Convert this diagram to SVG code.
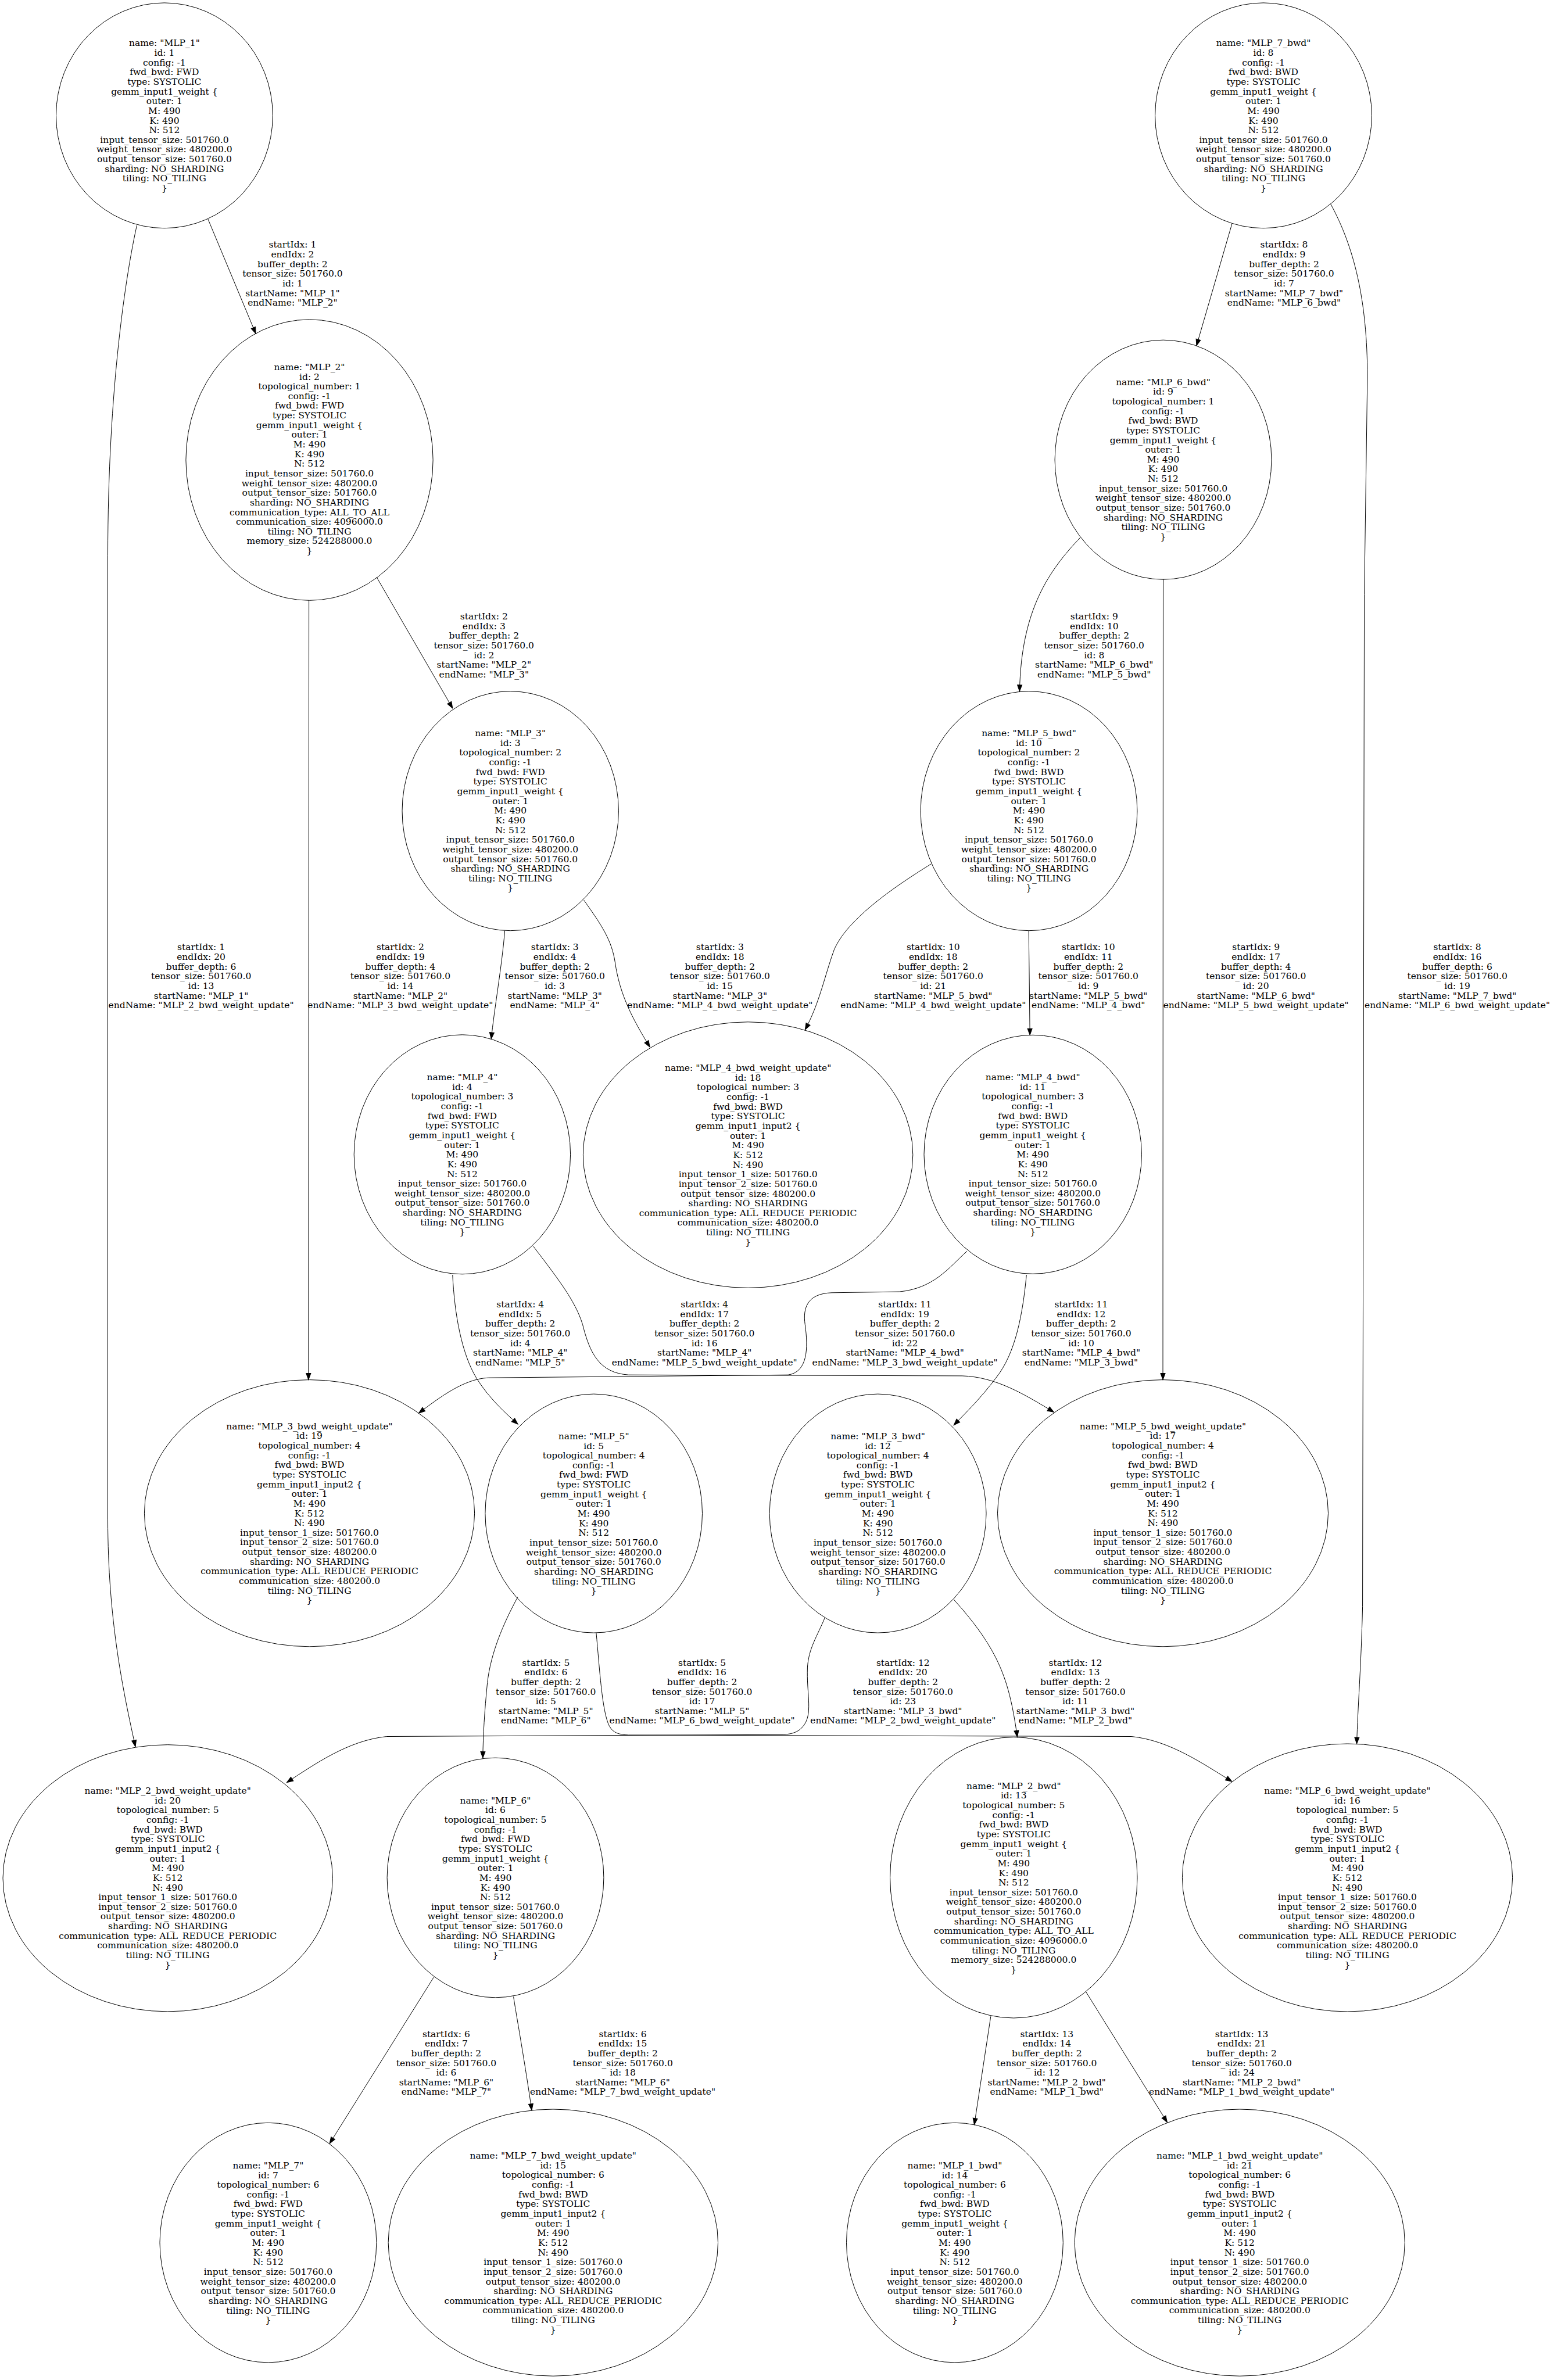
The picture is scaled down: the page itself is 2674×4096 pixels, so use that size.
<svg xmlns="http://www.w3.org/2000/svg" width="2674" height="4096" viewBox="0 0 2674 4096">
<defs>
<style>
.n ellipse{fill:none;stroke:#000;stroke-width:1}
text{font-family:"DejaVu Serif","Liberation Serif",serif;font-size:15.53px;text-anchor:middle;fill:#000}
.e path{fill:none;stroke:#000;stroke-width:1;marker-end:url(#ah)}
</style>
<marker id="ah" markerWidth="12" markerHeight="9" refX="11" refY="4" orient="auto" markerUnits="userSpaceOnUse" overflow="visible"><path d="M0,0 L11,4 L0,8 z" fill="#000" stroke="#000" stroke-width="1"/></marker>
</defs>
<rect width="2674" height="4096" fill="#fff"/>
<g id="edges" class="e">
<g id="e1"><path d="M357.8,376.9 L440.1,574.1"/><text x="503.4" y="426.4"><tspan x="503.4">startIdx: 1</tspan><tspan x="503.4" dy="16.64">endIdx: 2</tspan><tspan x="503.4" dy="16.64">buffer_depth: 2</tspan><tspan x="503.4" dy="16.64">tensor_size: 501760.0</tspan><tspan x="503.4" dy="16.64">id: 1</tspan><tspan x="503.4" dy="16.64">startName: "MLP_1"</tspan><tspan x="503.4" dy="16.64">endName: "MLP_2"</tspan></text></g>
<g id="e2"><path d="M648.1,993.4 L778.8,1218.9"/><text x="832.8" y="1066.2"><tspan x="832.8">startIdx: 2</tspan><tspan x="832.8" dy="16.64">endIdx: 3</tspan><tspan x="832.8" dy="16.64">buffer_depth: 2</tspan><tspan x="832.8" dy="16.64">tensor_size: 501760.0</tspan><tspan x="832.8" dy="16.64">id: 2</tspan><tspan x="832.8" dy="16.64">startName: "MLP_2"</tspan><tspan x="832.8" dy="16.64">endName: "MLP_3"</tspan></text></g>
<g id="e3"><path d="M868.6,1601.6 C864,1660 850,1740 845.3,1788.0"/><text x="954.7" y="1635.3"><tspan x="954.7">startIdx: 3</tspan><tspan x="954.7" dy="16.64">endIdx: 4</tspan><tspan x="954.7" dy="16.64">buffer_depth: 2</tspan><tspan x="954.7" dy="16.64">tensor_size: 501760.0</tspan><tspan x="954.7" dy="16.64">id: 3</tspan><tspan x="954.7" dy="16.64">startName: "MLP_3"</tspan><tspan x="954.7" dy="16.64">endName: "MLP_4"</tspan></text></g>
<g id="e4"><path d="M778.8,2194.0 C782.1,2263.0 794.6,2329.6 819.5,2371.2 C840.3,2404.5 865.3,2427.8 891.1,2451.1"/><text x="895.2" y="2250.1"><tspan x="895.2">startIdx: 4</tspan><tspan x="895.2" dy="16.64">endIdx: 5</tspan><tspan x="895.2" dy="16.64">buffer_depth: 2</tspan><tspan x="895.2" dy="16.64">tensor_size: 501760.0</tspan><tspan x="895.2" dy="16.64">id: 4</tspan><tspan x="895.2" dy="16.64">startName: "MLP_4"</tspan><tspan x="895.2" dy="16.64">endName: "MLP_5"</tspan></text></g>
<g id="e5"><path d="M891.1,2748.1 C865.3,2795.5 844.5,2845.4 838.7,2895.4 C833.7,2945.3 831.2,2986.9 830.8,3025.6"/><text x="939.3" y="2866.6"><tspan x="939.3">startIdx: 5</tspan><tspan x="939.3" dy="16.64">endIdx: 6</tspan><tspan x="939.3" dy="16.64">buffer_depth: 2</tspan><tspan x="939.3" dy="16.64">tensor_size: 501760.0</tspan><tspan x="939.3" dy="16.64">id: 5</tspan><tspan x="939.3" dy="16.64">startName: "MLP_5"</tspan><tspan x="939.3" dy="16.64">endName: "MLP_6"</tspan></text></g>
<g id="e6"><path d="M746.3,3402.9 L567.2,3689.1"/><text x="767.9" y="3505.6"><tspan x="767.9">startIdx: 6</tspan><tspan x="767.9" dy="16.64">endIdx: 7</tspan><tspan x="767.9" dy="16.64">buffer_depth: 2</tspan><tspan x="767.9" dy="16.64">tensor_size: 501760.0</tspan><tspan x="767.9" dy="16.64">id: 6</tspan><tspan x="767.9" dy="16.64">startName: "MLP_6"</tspan><tspan x="767.9" dy="16.64">endName: "MLP_7"</tspan></text></g>
<g id="e7"><path d="M2119.9,385.2 L2058.9,594.9"/><text x="2209.5" y="426.4"><tspan x="2209.5">startIdx: 8</tspan><tspan x="2209.5" dy="16.64">endIdx: 9</tspan><tspan x="2209.5" dy="16.64">buffer_depth: 2</tspan><tspan x="2209.5" dy="16.64">tensor_size: 501760.0</tspan><tspan x="2209.5" dy="16.64">id: 7</tspan><tspan x="2209.5" dy="16.64">startName: "MLP_7_bwd"</tspan><tspan x="2209.5" dy="16.64">endName: "MLP_6_bwd"</tspan></text></g>
<g id="e8"><path d="M1858.7,925.2 C1805.4,981.8 1757.2,1048.3 1754.4,1189.8"/><text x="1882.8" y="1066.2"><tspan x="1882.8">startIdx: 9</tspan><tspan x="1882.8" dy="16.64">endIdx: 10</tspan><tspan x="1882.8" dy="16.64">buffer_depth: 2</tspan><tspan x="1882.8" dy="16.64">tensor_size: 501760.0</tspan><tspan x="1882.8" dy="16.64">id: 8</tspan><tspan x="1882.8" dy="16.64">startName: "MLP_6_bwd"</tspan><tspan x="1882.8" dy="16.64">endName: "MLP_5_bwd"</tspan></text></g>
<g id="e9"><path d="M1770.2,1601.6 L1772.2,1781.3"/><text x="1872.8" y="1635.3"><tspan x="1872.8">startIdx: 10</tspan><tspan x="1872.8" dy="16.64">endIdx: 11</tspan><tspan x="1872.8" dy="16.64">buffer_depth: 2</tspan><tspan x="1872.8" dy="16.64">tensor_size: 501760.0</tspan><tspan x="1872.8" dy="16.64">id: 9</tspan><tspan x="1872.8" dy="16.64">startName: "MLP_5_bwd"</tspan><tspan x="1872.8" dy="16.64">endName: "MLP_4_bwd"</tspan></text></g>
<g id="e10"><path d="M1766.3,2194.0 C1759.7,2263.0 1747.2,2329.6 1713.9,2371.2 C1689.0,2404.5 1664.0,2429.4 1641.2,2452.7"/><text x="1860.4" y="2250.1"><tspan x="1860.4">startIdx: 11</tspan><tspan x="1860.4" dy="16.64">endIdx: 12</tspan><tspan x="1860.4" dy="16.64">buffer_depth: 2</tspan><tspan x="1860.4" dy="16.64">tensor_size: 501760.0</tspan><tspan x="1860.4" dy="16.64">id: 10</tspan><tspan x="1860.4" dy="16.64">startName: "MLP_4_bwd"</tspan><tspan x="1860.4" dy="16.64">endName: "MLP_3_bwd"</tspan></text></g>
<g id="e11"><path d="M1641.2,2752.8 C1672.3,2787.2 1697.3,2820.5 1713.9,2853.8 C1734.7,2895.4 1743.0,2937.0 1750.5,2989.4"/><text x="1850.4" y="2866.6"><tspan x="1850.4">startIdx: 12</tspan><tspan x="1850.4" dy="16.64">endIdx: 13</tspan><tspan x="1850.4" dy="16.64">buffer_depth: 2</tspan><tspan x="1850.4" dy="16.64">tensor_size: 501760.0</tspan><tspan x="1850.4" dy="16.64">id: 11</tspan><tspan x="1850.4" dy="16.64">startName: "MLP_3_bwd"</tspan><tspan x="1850.4" dy="16.64">endName: "MLP_2_bwd"</tspan></text></g>
<g id="e12"><path d="M1704.8,3470.3 L1676.5,3656.6"/><text x="1801.3" y="3505.6"><tspan x="1801.3">startIdx: 13</tspan><tspan x="1801.3" dy="16.64">endIdx: 14</tspan><tspan x="1801.3" dy="16.64">buffer_depth: 2</tspan><tspan x="1801.3" dy="16.64">tensor_size: 501760.0</tspan><tspan x="1801.3" dy="16.64">id: 12</tspan><tspan x="1801.3" dy="16.64">startName: "MLP_2_bwd"</tspan><tspan x="1801.3" dy="16.64">endName: "MLP_1_bwd"</tspan></text></g>
<g id="e13"><path d="M235.5,387.7 C218.0,465.9 185.5,665.6 185.5,956.8 L185.5,2614.1 C185.5,2787.2 212.2,2912.0 233.0,3006.0"/><text x="346.1" y="1635.3"><tspan x="346.1">startIdx: 1</tspan><tspan x="346.1" dy="16.64">endIdx: 20</tspan><tspan x="346.1" dy="16.64">buffer_depth: 6</tspan><tspan x="346.1" dy="16.64">tensor_size: 501760.0</tspan><tspan x="346.1" dy="16.64">id: 13</tspan><tspan x="346.1" dy="16.64">startName: "MLP_1"</tspan><tspan x="346.1" dy="16.64">endName: "MLP_2_bwd_weight_update"</tspan></text></g>
<g id="e14"><path d="M531.6,1033.3 L530.8,2374.5"/><text x="688.9" y="1635.3"><tspan x="688.9">startIdx: 2</tspan><tspan x="688.9" dy="16.64">endIdx: 19</tspan><tspan x="688.9" dy="16.64">buffer_depth: 4</tspan><tspan x="688.9" dy="16.64">tensor_size: 501760.0</tspan><tspan x="688.9" dy="16.64">id: 14</tspan><tspan x="688.9" dy="16.64">startName: "MLP_2"</tspan><tspan x="688.9" dy="16.64">endName: "MLP_3_bwd_weight_update"</tspan></text></g>
<g id="e15"><path d="M1004.7,1549.2 C1036.0,1593.3 1052.5,1618.2 1058.3,1655.7 C1066.6,1713.9 1089.9,1755.5 1118.2,1802.1"/><text x="1238.8" y="1635.3"><tspan x="1238.8">startIdx: 3</tspan><tspan x="1238.8" dy="16.64">endIdx: 18</tspan><tspan x="1238.8" dy="16.64">buffer_depth: 2</tspan><tspan x="1238.8" dy="16.64">tensor_size: 501760.0</tspan><tspan x="1238.8" dy="16.64">id: 15</tspan><tspan x="1238.8" dy="16.64">startName: "MLP_3"</tspan><tspan x="1238.8" dy="16.64">endName: "MLP_4_bwd_weight_update"</tspan></text></g>
<g id="e16"><path d="M917.7,2144.9 C956.8,2196.5 990.1,2238.1 1002.6,2279.7 C1015.0,2329.6 1031.7,2362.9 1081.6,2366.2 L1655.7,2367.9 C1713.9,2369.5 1763.8,2400.3 1813.4,2430.3"/><text x="1212.2" y="2250.1"><tspan x="1212.2">startIdx: 4</tspan><tspan x="1212.2" dy="16.64">endIdx: 17</tspan><tspan x="1212.2" dy="16.64">buffer_depth: 2</tspan><tspan x="1212.2" dy="16.64">tensor_size: 501760.0</tspan><tspan x="1212.2" dy="16.64">id: 16</tspan><tspan x="1212.2" dy="16.64">startName: "MLP_4"</tspan><tspan x="1212.2" dy="16.64">endName: "MLP_5_bwd_weight_update"</tspan></text></g>
<g id="e17"><path d="M1025.9,2810.2 C1031.7,2870.4 1035.8,2945.3 1048.3,2970.2 C1055.0,2982.7 1065.0,2985.2 1081.6,2986.0 L1946.9,2988.5 C2013.4,2995.2 2071.7,3036.8 2119.9,3065.9"/><text x="1208.1" y="2866.6"><tspan x="1208.1">startIdx: 5</tspan><tspan x="1208.1" dy="16.64">endIdx: 16</tspan><tspan x="1208.1" dy="16.64">buffer_depth: 2</tspan><tspan x="1208.1" dy="16.64">tensor_size: 501760.0</tspan><tspan x="1208.1" dy="16.64">id: 17</tspan><tspan x="1208.1" dy="16.64">startName: "MLP_5"</tspan><tspan x="1208.1" dy="16.64">endName: "MLP_6_bwd_weight_update"</tspan></text></g>
<g id="e18"><path d="M883.6,3436.2 C887,3460 900,3530 915.0,3631.7"/><text x="1071.6" y="3505.6"><tspan x="1071.6">startIdx: 6</tspan><tspan x="1071.6" dy="16.64">endIdx: 15</tspan><tspan x="1071.6" dy="16.64">buffer_depth: 2</tspan><tspan x="1071.6" dy="16.64">tensor_size: 501760.0</tspan><tspan x="1071.6" dy="16.64">id: 18</tspan><tspan x="1071.6" dy="16.64">startName: "MLP_6"</tspan><tspan x="1071.6" dy="16.64">endName: "MLP_7_bwd_weight_update"</tspan></text></g>
<g id="e19"><path d="M2289.7,351.1 C2329.6,424.3 2352.9,515.8 2352.9,649.0 L2347.6,1023.4 L2344.6,2764.7 C2342.1,2870.4 2336.3,2937.0 2334.6,3001.0"/><text x="2507.6" y="1635.3"><tspan x="2507.6">startIdx: 8</tspan><tspan x="2507.6" dy="16.64">endIdx: 16</tspan><tspan x="2507.6" dy="16.64">buffer_depth: 6</tspan><tspan x="2507.6" dy="16.64">tensor_size: 501760.0</tspan><tspan x="2507.6" dy="16.64">id: 19</tspan><tspan x="2507.6" dy="16.64">startName: "MLP_7_bwd"</tspan><tspan x="2507.6" dy="16.64">endName: "MLP_6_bwd_weight_update"</tspan></text></g>
<g id="e20"><path d="M2001.5,996.7 L2001.0,2374.5"/><text x="2161.2" y="1635.3"><tspan x="2161.2">startIdx: 9</tspan><tspan x="2161.2" dy="16.64">endIdx: 17</tspan><tspan x="2161.2" dy="16.64">buffer_depth: 4</tspan><tspan x="2161.2" dy="16.64">tensor_size: 501760.0</tspan><tspan x="2161.2" dy="16.64">id: 20</tspan><tspan x="2161.2" dy="16.64">startName: "MLP_6_bwd"</tspan><tspan x="2161.2" dy="16.64">endName: "MLP_5_bwd_weight_update"</tspan></text></g>
<g id="e21"><path d="M1602.4,1486.8 C1530.9,1530.9 1456.0,1585.0 1435.2,1634.9 C1418.6,1680.6 1410.2,1726.4 1385.3,1772.2"/><text x="1605.8" y="1635.3"><tspan x="1605.8">startIdx: 10</tspan><tspan x="1605.8" dy="16.64">endIdx: 18</tspan><tspan x="1605.8" dy="16.64">buffer_depth: 2</tspan><tspan x="1605.8" dy="16.64">tensor_size: 501760.0</tspan><tspan x="1605.8" dy="16.64">id: 21</tspan><tspan x="1605.8" dy="16.64">startName: "MLP_5_bwd"</tspan><tspan x="1605.8" dy="16.64">endName: "MLP_4_bwd_weight_update"</tspan></text></g>
<g id="e22"><path d="M1664.0,2153.2 C1630.7,2184.0 1605.8,2217.3 1547.5,2223.1 L1431.0,2224.8 C1389.4,2226.4 1381.1,2250.6 1385.3,2279.7 C1391.1,2321.3 1389.4,2361.2 1356.2,2366.2 L840.3,2371.2 C798.7,2372.9 757.1,2404.5 720.5,2432.0"/><text x="1557.1" y="2250.1"><tspan x="1557.1">startIdx: 11</tspan><tspan x="1557.1" dy="16.64">endIdx: 19</tspan><tspan x="1557.1" dy="16.64">buffer_depth: 2</tspan><tspan x="1557.1" dy="16.64">tensor_size: 501760.0</tspan><tspan x="1557.1" dy="16.64">id: 22</tspan><tspan x="1557.1" dy="16.64">startName: "MLP_4_bwd"</tspan><tspan x="1557.1" dy="16.64">endName: "MLP_3_bwd_weight_update"</tspan></text></g>
<g id="e23"><path d="M1419.4,2783.9 C1406.1,2816.3 1391.1,2837.1 1389.4,2870.4 C1387.8,2912.0 1397.8,2945.3 1385.3,2966.1 C1377.0,2980.2 1364.5,2984.4 1347.8,2985.2 L665.6,2988.5 C599.0,2995.2 540.8,3036.8 493.4,3067.6"/><text x="1553.8" y="2866.6"><tspan x="1553.8">startIdx: 12</tspan><tspan x="1553.8" dy="16.64">endIdx: 20</tspan><tspan x="1553.8" dy="16.64">buffer_depth: 2</tspan><tspan x="1553.8" dy="16.64">tensor_size: 501760.0</tspan><tspan x="1553.8" dy="16.64">id: 23</tspan><tspan x="1553.8" dy="16.64">startName: "MLP_3_bwd"</tspan><tspan x="1553.8" dy="16.64">endName: "MLP_2_bwd_weight_update"</tspan></text></g>
<g id="e24"><path d="M1868.5,3427.8 L2008.4,3652.5"/><text x="2136.6" y="3505.6"><tspan x="2136.6">startIdx: 13</tspan><tspan x="2136.6" dy="16.64">endIdx: 21</tspan><tspan x="2136.6" dy="16.64">buffer_depth: 2</tspan><tspan x="2136.6" dy="16.64">tensor_size: 501760.0</tspan><tspan x="2136.6" dy="16.64">id: 24</tspan><tspan x="2136.6" dy="16.64">startName: "MLP_2_bwd"</tspan><tspan x="2136.6" dy="16.64">endName: "MLP_1_bwd_weight_update"</tspan></text></g>
</g>
<g id="nodes">
<g id="MLP_1" class="n"><ellipse cx="282.9" cy="198.8" rx="186.4" ry="193.9"/><text x="282.9" y="79.4"><tspan x="282.9">name: "MLP_1"</tspan><tspan x="282.9" dy="16.64">id: 1</tspan><tspan x="282.9" dy="16.64">config: -1</tspan><tspan x="282.9" dy="16.64">fwd_bwd: FWD</tspan><tspan x="282.9" dy="16.64">type: SYSTOLIC</tspan><tspan x="282.9" dy="16.64">gemm_input1_weight {</tspan><tspan x="282.9" dy="16.64">outer: 1</tspan><tspan x="282.9" dy="16.64">M: 490</tspan><tspan x="282.9" dy="16.64">K: 490</tspan><tspan x="282.9" dy="16.64">N: 512</tspan><tspan x="282.9" dy="16.64">input_tensor_size: 501760.0</tspan><tspan x="282.9" dy="16.64">weight_tensor_size: 480200.0</tspan><tspan x="282.9" dy="16.64">output_tensor_size: 501760.0</tspan><tspan x="282.9" dy="16.64">sharding: NO_SHARDING</tspan><tspan x="282.9" dy="16.64">tiling: NO_TILING</tspan><tspan x="282.9" dy="16.64">}</tspan></text></g>
<g id="MLP_7_bwd" class="n"><ellipse cx="2174.0" cy="198.8" rx="186.4" ry="193.9"/><text x="2174.0" y="79.4"><tspan x="2174.0">name: "MLP_7_bwd"</tspan><tspan x="2174.0" dy="16.64">id: 8</tspan><tspan x="2174.0" dy="16.64">config: -1</tspan><tspan x="2174.0" dy="16.64">fwd_bwd: BWD</tspan><tspan x="2174.0" dy="16.64">type: SYSTOLIC</tspan><tspan x="2174.0" dy="16.64">gemm_input1_weight {</tspan><tspan x="2174.0" dy="16.64">outer: 1</tspan><tspan x="2174.0" dy="16.64">M: 490</tspan><tspan x="2174.0" dy="16.64">K: 490</tspan><tspan x="2174.0" dy="16.64">N: 512</tspan><tspan x="2174.0" dy="16.64">input_tensor_size: 501760.0</tspan><tspan x="2174.0" dy="16.64">weight_tensor_size: 480200.0</tspan><tspan x="2174.0" dy="16.64">output_tensor_size: 501760.0</tspan><tspan x="2174.0" dy="16.64">sharding: NO_SHARDING</tspan><tspan x="2174.0" dy="16.64">tiling: NO_TILING</tspan><tspan x="2174.0" dy="16.64">}</tspan></text></g>
<g id="MLP_2" class="n"><ellipse cx="532.5" cy="791.6" rx="212.6" ry="241.7"/><text x="532.5" y="636.9"><tspan x="532.5">name: "MLP_2"</tspan><tspan x="532.5" dy="16.64">id: 2</tspan><tspan x="532.5" dy="16.64">topological_number: 1</tspan><tspan x="532.5" dy="16.64">config: -1</tspan><tspan x="532.5" dy="16.64">fwd_bwd: FWD</tspan><tspan x="532.5" dy="16.64">type: SYSTOLIC</tspan><tspan x="532.5" dy="16.64">gemm_input1_weight {</tspan><tspan x="532.5" dy="16.64">outer: 1</tspan><tspan x="532.5" dy="16.64">M: 490</tspan><tspan x="532.5" dy="16.64">K: 490</tspan><tspan x="532.5" dy="16.64">N: 512</tspan><tspan x="532.5" dy="16.64">input_tensor_size: 501760.0</tspan><tspan x="532.5" dy="16.64">weight_tensor_size: 480200.0</tspan><tspan x="532.5" dy="16.64">output_tensor_size: 501760.0</tspan><tspan x="532.5" dy="16.64">sharding: NO_SHARDING</tspan><tspan x="532.5" dy="16.64">communication_type: ALL_TO_ALL</tspan><tspan x="532.5" dy="16.64">communication_size: 4096000.0</tspan><tspan x="532.5" dy="16.64">tiling: NO_TILING</tspan><tspan x="532.5" dy="16.64">memory_size: 524288000.0</tspan><tspan x="532.5" dy="16.64">}</tspan></text></g>
<g id="MLP_2_bwd" class="n"><ellipse cx="1744.3" cy="3231.3" rx="212.7" ry="241.7"/><text x="1744.3" y="3078.8"><tspan x="1744.3">name: "MLP_2_bwd"</tspan><tspan x="1744.3" dy="16.64">id: 13</tspan><tspan x="1744.3" dy="16.64">topological_number: 5</tspan><tspan x="1744.3" dy="16.64">config: -1</tspan><tspan x="1744.3" dy="16.64">fwd_bwd: BWD</tspan><tspan x="1744.3" dy="16.64">type: SYSTOLIC</tspan><tspan x="1744.3" dy="16.64">gemm_input1_weight {</tspan><tspan x="1744.3" dy="16.64">outer: 1</tspan><tspan x="1744.3" dy="16.64">M: 490</tspan><tspan x="1744.3" dy="16.64">K: 490</tspan><tspan x="1744.3" dy="16.64">N: 512</tspan><tspan x="1744.3" dy="16.64">input_tensor_size: 501760.0</tspan><tspan x="1744.3" dy="16.64">weight_tensor_size: 480200.0</tspan><tspan x="1744.3" dy="16.64">output_tensor_size: 501760.0</tspan><tspan x="1744.3" dy="16.64">sharding: NO_SHARDING</tspan><tspan x="1744.3" dy="16.64">communication_type: ALL_TO_ALL</tspan><tspan x="1744.3" dy="16.64">communication_size: 4096000.0</tspan><tspan x="1744.3" dy="16.64">tiling: NO_TILING</tspan><tspan x="1744.3" dy="16.64">memory_size: 524288000.0</tspan><tspan x="1744.3" dy="16.64">}</tspan></text></g>
<g id="MLP_3" class="n"><ellipse cx="878.2" cy="1395.7" rx="186.2" ry="206"/><text x="878.2" y="1267.2"><tspan x="878.2">name: "MLP_3"</tspan><tspan x="878.2" dy="16.64">id: 3</tspan><tspan x="878.2" dy="16.64">topological_number: 2</tspan><tspan x="878.2" dy="16.64">config: -1</tspan><tspan x="878.2" dy="16.64">fwd_bwd: FWD</tspan><tspan x="878.2" dy="16.64">type: SYSTOLIC</tspan><tspan x="878.2" dy="16.64">gemm_input1_weight {</tspan><tspan x="878.2" dy="16.64">outer: 1</tspan><tspan x="878.2" dy="16.64">M: 490</tspan><tspan x="878.2" dy="16.64">K: 490</tspan><tspan x="878.2" dy="16.64">N: 512</tspan><tspan x="878.2" dy="16.64">input_tensor_size: 501760.0</tspan><tspan x="878.2" dy="16.64">weight_tensor_size: 480200.0</tspan><tspan x="878.2" dy="16.64">output_tensor_size: 501760.0</tspan><tspan x="878.2" dy="16.64">sharding: NO_SHARDING</tspan><tspan x="878.2" dy="16.64">tiling: NO_TILING</tspan><tspan x="878.2" dy="16.64">}</tspan></text></g>
<g id="MLP_4" class="n"><ellipse cx="795.4" cy="1986.8" rx="186.2" ry="206"/><text x="795.4" y="1859.1"><tspan x="795.4">name: "MLP_4"</tspan><tspan x="795.4" dy="16.64">id: 4</tspan><tspan x="795.4" dy="16.64">topological_number: 3</tspan><tspan x="795.4" dy="16.64">config: -1</tspan><tspan x="795.4" dy="16.64">fwd_bwd: FWD</tspan><tspan x="795.4" dy="16.64">type: SYSTOLIC</tspan><tspan x="795.4" dy="16.64">gemm_input1_weight {</tspan><tspan x="795.4" dy="16.64">outer: 1</tspan><tspan x="795.4" dy="16.64">M: 490</tspan><tspan x="795.4" dy="16.64">K: 490</tspan><tspan x="795.4" dy="16.64">N: 512</tspan><tspan x="795.4" dy="16.64">input_tensor_size: 501760.0</tspan><tspan x="795.4" dy="16.64">weight_tensor_size: 480200.0</tspan><tspan x="795.4" dy="16.64">output_tensor_size: 501760.0</tspan><tspan x="795.4" dy="16.64">sharding: NO_SHARDING</tspan><tspan x="795.4" dy="16.64">tiling: NO_TILING</tspan><tspan x="795.4" dy="16.64">}</tspan></text></g>
<g id="MLP_5" class="n"><ellipse cx="1021.7" cy="2604.6" rx="186.8" ry="205.5"/><text x="1021.7" y="2476.9"><tspan x="1021.7">name: "MLP_5"</tspan><tspan x="1021.7" dy="16.64">id: 5</tspan><tspan x="1021.7" dy="16.64">topological_number: 4</tspan><tspan x="1021.7" dy="16.64">config: -1</tspan><tspan x="1021.7" dy="16.64">fwd_bwd: FWD</tspan><tspan x="1021.7" dy="16.64">type: SYSTOLIC</tspan><tspan x="1021.7" dy="16.64">gemm_input1_weight {</tspan><tspan x="1021.7" dy="16.64">outer: 1</tspan><tspan x="1021.7" dy="16.64">M: 490</tspan><tspan x="1021.7" dy="16.64">K: 490</tspan><tspan x="1021.7" dy="16.64">N: 512</tspan><tspan x="1021.7" dy="16.64">input_tensor_size: 501760.0</tspan><tspan x="1021.7" dy="16.64">weight_tensor_size: 480200.0</tspan><tspan x="1021.7" dy="16.64">output_tensor_size: 501760.0</tspan><tspan x="1021.7" dy="16.64">sharding: NO_SHARDING</tspan><tspan x="1021.7" dy="16.64">tiling: NO_TILING</tspan><tspan x="1021.7" dy="16.64">}</tspan></text></g>
<g id="MLP_6" class="n"><ellipse cx="852.5" cy="3231.5" rx="186.4" ry="206.3"/><text x="852.5" y="3103.8"><tspan x="852.5">name: "MLP_6"</tspan><tspan x="852.5" dy="16.64">id: 6</tspan><tspan x="852.5" dy="16.64">topological_number: 5</tspan><tspan x="852.5" dy="16.64">config: -1</tspan><tspan x="852.5" dy="16.64">fwd_bwd: FWD</tspan><tspan x="852.5" dy="16.64">type: SYSTOLIC</tspan><tspan x="852.5" dy="16.64">gemm_input1_weight {</tspan><tspan x="852.5" dy="16.64">outer: 1</tspan><tspan x="852.5" dy="16.64">M: 490</tspan><tspan x="852.5" dy="16.64">K: 490</tspan><tspan x="852.5" dy="16.64">N: 512</tspan><tspan x="852.5" dy="16.64">input_tensor_size: 501760.0</tspan><tspan x="852.5" dy="16.64">weight_tensor_size: 480200.0</tspan><tspan x="852.5" dy="16.64">output_tensor_size: 501760.0</tspan><tspan x="852.5" dy="16.64">sharding: NO_SHARDING</tspan><tspan x="852.5" dy="16.64">tiling: NO_TILING</tspan><tspan x="852.5" dy="16.64">}</tspan></text></g>
<g id="MLP_7" class="n"><ellipse cx="461.4" cy="3859.6" rx="186.4" ry="206.3"/><text x="461.4" y="3731.9"><tspan x="461.4">name: "MLP_7"</tspan><tspan x="461.4" dy="16.64">id: 7</tspan><tspan x="461.4" dy="16.64">topological_number: 6</tspan><tspan x="461.4" dy="16.64">config: -1</tspan><tspan x="461.4" dy="16.64">fwd_bwd: FWD</tspan><tspan x="461.4" dy="16.64">type: SYSTOLIC</tspan><tspan x="461.4" dy="16.64">gemm_input1_weight {</tspan><tspan x="461.4" dy="16.64">outer: 1</tspan><tspan x="461.4" dy="16.64">M: 490</tspan><tspan x="461.4" dy="16.64">K: 490</tspan><tspan x="461.4" dy="16.64">N: 512</tspan><tspan x="461.4" dy="16.64">input_tensor_size: 501760.0</tspan><tspan x="461.4" dy="16.64">weight_tensor_size: 480200.0</tspan><tspan x="461.4" dy="16.64">output_tensor_size: 501760.0</tspan><tspan x="461.4" dy="16.64">sharding: NO_SHARDING</tspan><tspan x="461.4" dy="16.64">tiling: NO_TILING</tspan><tspan x="461.4" dy="16.64">}</tspan></text></g>
<g id="MLP_6_bwd" class="n"><ellipse cx="2001.5" cy="791.2" rx="186.4" ry="206"/><text x="2001.5" y="662.7"><tspan x="2001.5">name: "MLP_6_bwd"</tspan><tspan x="2001.5" dy="16.64">id: 9</tspan><tspan x="2001.5" dy="16.64">topological_number: 1</tspan><tspan x="2001.5" dy="16.64">config: -1</tspan><tspan x="2001.5" dy="16.64">fwd_bwd: BWD</tspan><tspan x="2001.5" dy="16.64">type: SYSTOLIC</tspan><tspan x="2001.5" dy="16.64">gemm_input1_weight {</tspan><tspan x="2001.5" dy="16.64">outer: 1</tspan><tspan x="2001.5" dy="16.64">M: 490</tspan><tspan x="2001.5" dy="16.64">K: 490</tspan><tspan x="2001.5" dy="16.64">N: 512</tspan><tspan x="2001.5" dy="16.64">input_tensor_size: 501760.0</tspan><tspan x="2001.5" dy="16.64">weight_tensor_size: 480200.0</tspan><tspan x="2001.5" dy="16.64">output_tensor_size: 501760.0</tspan><tspan x="2001.5" dy="16.64">sharding: NO_SHARDING</tspan><tspan x="2001.5" dy="16.64">tiling: NO_TILING</tspan><tspan x="2001.5" dy="16.64">}</tspan></text></g>
<g id="MLP_5_bwd" class="n"><ellipse cx="1770.5" cy="1395.7" rx="186.4" ry="206"/><text x="1770.5" y="1267.2"><tspan x="1770.5">name: "MLP_5_bwd"</tspan><tspan x="1770.5" dy="16.64">id: 10</tspan><tspan x="1770.5" dy="16.64">topological_number: 2</tspan><tspan x="1770.5" dy="16.64">config: -1</tspan><tspan x="1770.5" dy="16.64">fwd_bwd: BWD</tspan><tspan x="1770.5" dy="16.64">type: SYSTOLIC</tspan><tspan x="1770.5" dy="16.64">gemm_input1_weight {</tspan><tspan x="1770.5" dy="16.64">outer: 1</tspan><tspan x="1770.5" dy="16.64">M: 490</tspan><tspan x="1770.5" dy="16.64">K: 490</tspan><tspan x="1770.5" dy="16.64">N: 512</tspan><tspan x="1770.5" dy="16.64">input_tensor_size: 501760.0</tspan><tspan x="1770.5" dy="16.64">weight_tensor_size: 480200.0</tspan><tspan x="1770.5" dy="16.64">output_tensor_size: 501760.0</tspan><tspan x="1770.5" dy="16.64">sharding: NO_SHARDING</tspan><tspan x="1770.5" dy="16.64">tiling: NO_TILING</tspan><tspan x="1770.5" dy="16.64">}</tspan></text></g>
<g id="MLP_4_bwd" class="n"><ellipse cx="1777.2" cy="1986.8" rx="187.2" ry="205.5"/><text x="1777.2" y="1859.1"><tspan x="1777.2">name: "MLP_4_bwd"</tspan><tspan x="1777.2" dy="16.64">id: 11</tspan><tspan x="1777.2" dy="16.64">topological_number: 3</tspan><tspan x="1777.2" dy="16.64">config: -1</tspan><tspan x="1777.2" dy="16.64">fwd_bwd: BWD</tspan><tspan x="1777.2" dy="16.64">type: SYSTOLIC</tspan><tspan x="1777.2" dy="16.64">gemm_input1_weight {</tspan><tspan x="1777.2" dy="16.64">outer: 1</tspan><tspan x="1777.2" dy="16.64">M: 490</tspan><tspan x="1777.2" dy="16.64">K: 490</tspan><tspan x="1777.2" dy="16.64">N: 512</tspan><tspan x="1777.2" dy="16.64">input_tensor_size: 501760.0</tspan><tspan x="1777.2" dy="16.64">weight_tensor_size: 480200.0</tspan><tspan x="1777.2" dy="16.64">output_tensor_size: 501760.0</tspan><tspan x="1777.2" dy="16.64">sharding: NO_SHARDING</tspan><tspan x="1777.2" dy="16.64">tiling: NO_TILING</tspan><tspan x="1777.2" dy="16.64">}</tspan></text></g>
<g id="MLP_3_bwd" class="n"><ellipse cx="1510.6" cy="2604.6" rx="186.4" ry="205.5"/><text x="1510.6" y="2476.9"><tspan x="1510.6">name: "MLP_3_bwd"</tspan><tspan x="1510.6" dy="16.64">id: 12</tspan><tspan x="1510.6" dy="16.64">topological_number: 4</tspan><tspan x="1510.6" dy="16.64">config: -1</tspan><tspan x="1510.6" dy="16.64">fwd_bwd: BWD</tspan><tspan x="1510.6" dy="16.64">type: SYSTOLIC</tspan><tspan x="1510.6" dy="16.64">gemm_input1_weight {</tspan><tspan x="1510.6" dy="16.64">outer: 1</tspan><tspan x="1510.6" dy="16.64">M: 490</tspan><tspan x="1510.6" dy="16.64">K: 490</tspan><tspan x="1510.6" dy="16.64">N: 512</tspan><tspan x="1510.6" dy="16.64">input_tensor_size: 501760.0</tspan><tspan x="1510.6" dy="16.64">weight_tensor_size: 480200.0</tspan><tspan x="1510.6" dy="16.64">output_tensor_size: 501760.0</tspan><tspan x="1510.6" dy="16.64">sharding: NO_SHARDING</tspan><tspan x="1510.6" dy="16.64">tiling: NO_TILING</tspan><tspan x="1510.6" dy="16.64">}</tspan></text></g>
<g id="MLP_1_bwd" class="n"><ellipse cx="1642.9" cy="3859.6" rx="186.4" ry="206.3"/><text x="1642.9" y="3731.9"><tspan x="1642.9">name: "MLP_1_bwd"</tspan><tspan x="1642.9" dy="16.64">id: 14</tspan><tspan x="1642.9" dy="16.64">topological_number: 6</tspan><tspan x="1642.9" dy="16.64">config: -1</tspan><tspan x="1642.9" dy="16.64">fwd_bwd: BWD</tspan><tspan x="1642.9" dy="16.64">type: SYSTOLIC</tspan><tspan x="1642.9" dy="16.64">gemm_input1_weight {</tspan><tspan x="1642.9" dy="16.64">outer: 1</tspan><tspan x="1642.9" dy="16.64">M: 490</tspan><tspan x="1642.9" dy="16.64">K: 490</tspan><tspan x="1642.9" dy="16.64">N: 512</tspan><tspan x="1642.9" dy="16.64">input_tensor_size: 501760.0</tspan><tspan x="1642.9" dy="16.64">weight_tensor_size: 480200.0</tspan><tspan x="1642.9" dy="16.64">output_tensor_size: 501760.0</tspan><tspan x="1642.9" dy="16.64">sharding: NO_SHARDING</tspan><tspan x="1642.9" dy="16.64">tiling: NO_TILING</tspan><tspan x="1642.9" dy="16.64">}</tspan></text></g>
<g id="MLP_7_bwd_weight_update" class="n"><ellipse cx="951.8" cy="3859.6" rx="283.7" ry="229.6"/><text x="951.8" y="3715.2"><tspan x="951.8">name: "MLP_7_bwd_weight_update"</tspan><tspan x="951.8" dy="16.64">id: 15</tspan><tspan x="951.8" dy="16.64">topological_number: 6</tspan><tspan x="951.8" dy="16.64">config: -1</tspan><tspan x="951.8" dy="16.64">fwd_bwd: BWD</tspan><tspan x="951.8" dy="16.64">type: SYSTOLIC</tspan><tspan x="951.8" dy="16.64">gemm_input1_input2 {</tspan><tspan x="951.8" dy="16.64">outer: 1</tspan><tspan x="951.8" dy="16.64">M: 490</tspan><tspan x="951.8" dy="16.64">K: 512</tspan><tspan x="951.8" dy="16.64">N: 490</tspan><tspan x="951.8" dy="16.64">input_tensor_1_size: 501760.0</tspan><tspan x="951.8" dy="16.64">input_tensor_2_size: 501760.0</tspan><tspan x="951.8" dy="16.64">output_tensor_size: 480200.0</tspan><tspan x="951.8" dy="16.64">sharding: NO_SHARDING</tspan><tspan x="951.8" dy="16.64">communication_type: ALL_REDUCE_PERIODIC</tspan><tspan x="951.8" dy="16.64">communication_size: 480200.0</tspan><tspan x="951.8" dy="16.64">tiling: NO_TILING</tspan><tspan x="951.8" dy="16.64">}</tspan></text></g>
<g id="MLP_6_bwd_weight_update" class="n"><ellipse cx="2318.5" cy="3231.5" rx="284.1" ry="230.5"/><text x="2318.5" y="3087.1"><tspan x="2318.5">name: "MLP_6_bwd_weight_update"</tspan><tspan x="2318.5" dy="16.64">id: 16</tspan><tspan x="2318.5" dy="16.64">topological_number: 5</tspan><tspan x="2318.5" dy="16.64">config: -1</tspan><tspan x="2318.5" dy="16.64">fwd_bwd: BWD</tspan><tspan x="2318.5" dy="16.64">type: SYSTOLIC</tspan><tspan x="2318.5" dy="16.64">gemm_input1_input2 {</tspan><tspan x="2318.5" dy="16.64">outer: 1</tspan><tspan x="2318.5" dy="16.64">M: 490</tspan><tspan x="2318.5" dy="16.64">K: 512</tspan><tspan x="2318.5" dy="16.64">N: 490</tspan><tspan x="2318.5" dy="16.64">input_tensor_1_size: 501760.0</tspan><tspan x="2318.5" dy="16.64">input_tensor_2_size: 501760.0</tspan><tspan x="2318.5" dy="16.64">output_tensor_size: 480200.0</tspan><tspan x="2318.5" dy="16.64">sharding: NO_SHARDING</tspan><tspan x="2318.5" dy="16.64">communication_type: ALL_REDUCE_PERIODIC</tspan><tspan x="2318.5" dy="16.64">communication_size: 480200.0</tspan><tspan x="2318.5" dy="16.64">tiling: NO_TILING</tspan><tspan x="2318.5" dy="16.64">}</tspan></text></g>
<g id="MLP_5_bwd_weight_update" class="n"><ellipse cx="2001.0" cy="2604.2" rx="284.5" ry="229.6"/><text x="2001.0" y="2459.8"><tspan x="2001.0">name: "MLP_5_bwd_weight_update"</tspan><tspan x="2001.0" dy="16.64">id: 17</tspan><tspan x="2001.0" dy="16.64">topological_number: 4</tspan><tspan x="2001.0" dy="16.64">config: -1</tspan><tspan x="2001.0" dy="16.64">fwd_bwd: BWD</tspan><tspan x="2001.0" dy="16.64">type: SYSTOLIC</tspan><tspan x="2001.0" dy="16.64">gemm_input1_input2 {</tspan><tspan x="2001.0" dy="16.64">outer: 1</tspan><tspan x="2001.0" dy="16.64">M: 490</tspan><tspan x="2001.0" dy="16.64">K: 512</tspan><tspan x="2001.0" dy="16.64">N: 490</tspan><tspan x="2001.0" dy="16.64">input_tensor_1_size: 501760.0</tspan><tspan x="2001.0" dy="16.64">input_tensor_2_size: 501760.0</tspan><tspan x="2001.0" dy="16.64">output_tensor_size: 480200.0</tspan><tspan x="2001.0" dy="16.64">sharding: NO_SHARDING</tspan><tspan x="2001.0" dy="16.64">communication_type: ALL_REDUCE_PERIODIC</tspan><tspan x="2001.0" dy="16.64">communication_size: 480200.0</tspan><tspan x="2001.0" dy="16.64">tiling: NO_TILING</tspan><tspan x="2001.0" dy="16.64">}</tspan></text></g>
<g id="MLP_4_bwd_weight_update" class="n"><ellipse cx="1287.1" cy="1987.6" rx="283.7" ry="228.8"/><text x="1287.1" y="1843.2"><tspan x="1287.1">name: "MLP_4_bwd_weight_update"</tspan><tspan x="1287.1" dy="16.64">id: 18</tspan><tspan x="1287.1" dy="16.64">topological_number: 3</tspan><tspan x="1287.1" dy="16.64">config: -1</tspan><tspan x="1287.1" dy="16.64">fwd_bwd: BWD</tspan><tspan x="1287.1" dy="16.64">type: SYSTOLIC</tspan><tspan x="1287.1" dy="16.64">gemm_input1_input2 {</tspan><tspan x="1287.1" dy="16.64">outer: 1</tspan><tspan x="1287.1" dy="16.64">M: 490</tspan><tspan x="1287.1" dy="16.64">K: 512</tspan><tspan x="1287.1" dy="16.64">N: 490</tspan><tspan x="1287.1" dy="16.64">input_tensor_1_size: 501760.0</tspan><tspan x="1287.1" dy="16.64">input_tensor_2_size: 501760.0</tspan><tspan x="1287.1" dy="16.64">output_tensor_size: 480200.0</tspan><tspan x="1287.1" dy="16.64">sharding: NO_SHARDING</tspan><tspan x="1287.1" dy="16.64">communication_type: ALL_REDUCE_PERIODIC</tspan><tspan x="1287.1" dy="16.64">communication_size: 480200.0</tspan><tspan x="1287.1" dy="16.64">tiling: NO_TILING</tspan><tspan x="1287.1" dy="16.64">}</tspan></text></g>
<g id="MLP_3_bwd_weight_update" class="n"><ellipse cx="532.5" cy="2604.2" rx="284.1" ry="229.6"/><text x="532.5" y="2459.8"><tspan x="532.5">name: "MLP_3_bwd_weight_update"</tspan><tspan x="532.5" dy="16.64">id: 19</tspan><tspan x="532.5" dy="16.64">topological_number: 4</tspan><tspan x="532.5" dy="16.64">config: -1</tspan><tspan x="532.5" dy="16.64">fwd_bwd: BWD</tspan><tspan x="532.5" dy="16.64">type: SYSTOLIC</tspan><tspan x="532.5" dy="16.64">gemm_input1_input2 {</tspan><tspan x="532.5" dy="16.64">outer: 1</tspan><tspan x="532.5" dy="16.64">M: 490</tspan><tspan x="532.5" dy="16.64">K: 512</tspan><tspan x="532.5" dy="16.64">N: 490</tspan><tspan x="532.5" dy="16.64">input_tensor_1_size: 501760.0</tspan><tspan x="532.5" dy="16.64">input_tensor_2_size: 501760.0</tspan><tspan x="532.5" dy="16.64">output_tensor_size: 480200.0</tspan><tspan x="532.5" dy="16.64">sharding: NO_SHARDING</tspan><tspan x="532.5" dy="16.64">communication_type: ALL_REDUCE_PERIODIC</tspan><tspan x="532.5" dy="16.64">communication_size: 480200.0</tspan><tspan x="532.5" dy="16.64">tiling: NO_TILING</tspan><tspan x="532.5" dy="16.64">}</tspan></text></g>
<g id="MLP_2_bwd_weight_update" class="n"><ellipse cx="288.7" cy="3232.3" rx="283.7" ry="229.6"/><text x="288.7" y="3087.1"><tspan x="288.7">name: "MLP_2_bwd_weight_update"</tspan><tspan x="288.7" dy="16.64">id: 20</tspan><tspan x="288.7" dy="16.64">topological_number: 5</tspan><tspan x="288.7" dy="16.64">config: -1</tspan><tspan x="288.7" dy="16.64">fwd_bwd: BWD</tspan><tspan x="288.7" dy="16.64">type: SYSTOLIC</tspan><tspan x="288.7" dy="16.64">gemm_input1_input2 {</tspan><tspan x="288.7" dy="16.64">outer: 1</tspan><tspan x="288.7" dy="16.64">M: 490</tspan><tspan x="288.7" dy="16.64">K: 512</tspan><tspan x="288.7" dy="16.64">N: 490</tspan><tspan x="288.7" dy="16.64">input_tensor_1_size: 501760.0</tspan><tspan x="288.7" dy="16.64">input_tensor_2_size: 501760.0</tspan><tspan x="288.7" dy="16.64">output_tensor_size: 480200.0</tspan><tspan x="288.7" dy="16.64">sharding: NO_SHARDING</tspan><tspan x="288.7" dy="16.64">communication_type: ALL_REDUCE_PERIODIC</tspan><tspan x="288.7" dy="16.64">communication_size: 480200.0</tspan><tspan x="288.7" dy="16.64">tiling: NO_TILING</tspan><tspan x="288.7" dy="16.64">}</tspan></text></g>
<g id="MLP_1_bwd_weight_update" class="n"><ellipse cx="2133.2" cy="3859.6" rx="284.1" ry="229.6"/><text x="2133.2" y="3715.2"><tspan x="2133.2">name: "MLP_1_bwd_weight_update"</tspan><tspan x="2133.2" dy="16.64">id: 21</tspan><tspan x="2133.2" dy="16.64">topological_number: 6</tspan><tspan x="2133.2" dy="16.64">config: -1</tspan><tspan x="2133.2" dy="16.64">fwd_bwd: BWD</tspan><tspan x="2133.2" dy="16.64">type: SYSTOLIC</tspan><tspan x="2133.2" dy="16.64">gemm_input1_input2 {</tspan><tspan x="2133.2" dy="16.64">outer: 1</tspan><tspan x="2133.2" dy="16.64">M: 490</tspan><tspan x="2133.2" dy="16.64">K: 512</tspan><tspan x="2133.2" dy="16.64">N: 490</tspan><tspan x="2133.2" dy="16.64">input_tensor_1_size: 501760.0</tspan><tspan x="2133.2" dy="16.64">input_tensor_2_size: 501760.0</tspan><tspan x="2133.2" dy="16.64">output_tensor_size: 480200.0</tspan><tspan x="2133.2" dy="16.64">sharding: NO_SHARDING</tspan><tspan x="2133.2" dy="16.64">communication_type: ALL_REDUCE_PERIODIC</tspan><tspan x="2133.2" dy="16.64">communication_size: 480200.0</tspan><tspan x="2133.2" dy="16.64">tiling: NO_TILING</tspan><tspan x="2133.2" dy="16.64">}</tspan></text></g>
</g>
</svg>
